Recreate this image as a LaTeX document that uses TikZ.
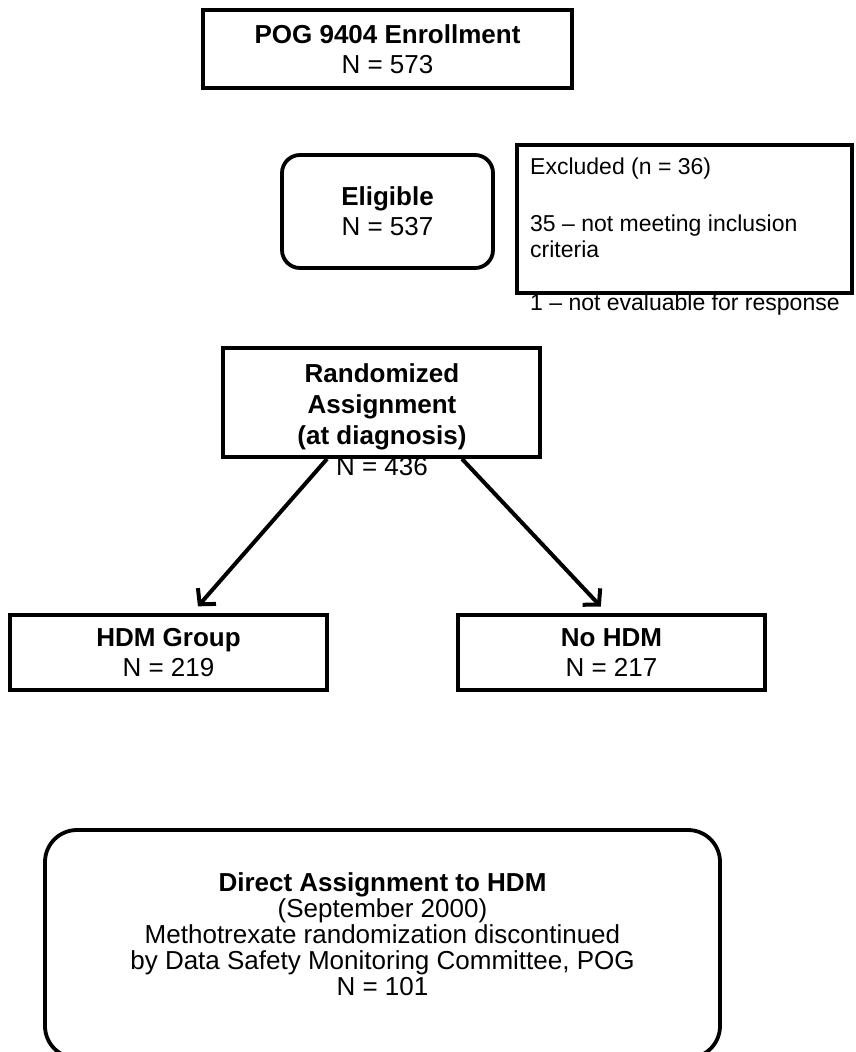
\documentclass[tikz,border=0pt]{standalone}
\usepackage{fontspec}
\setmainfont{Liberation Sans}
\usetikzlibrary{arrows.meta}

\begin{document}
\begin{tikzpicture}[x=1pt,y=-1pt,
   font=\fontsize{26}{30}\selectfont,
   box/.style={draw,line width=3.8pt,inner sep=0pt,align=center},
   rbox/.style={box,rounded corners=18pt},
   txt/.style={inner sep=0pt,align=center},
   arr/.style={line width=4pt,-{Straight Barb[length=11pt,width=24pt]},shorten >=9pt}]
\useasboundingbox (0,0) rectangle (855,1052);
\node[box,minimum width=369pt,minimum height=78pt] (enroll) at (387.5,49)
   {\textbf{POG 9404 Enrollment}\\N = 573};
\node[rbox,minimum width=211pt,minimum height=113pt] (elig) at (387.5,211.5)
   {\textbf{Eligible}\\N = 537};
\node[box,minimum width=335pt,minimum height=148pt] (excl) at (684.5,219) {};
\node[txt,align=left,anchor=west,font=\fontsize{23}{26.5}\selectfont] (exclt) at (530,237)
   {Excluded (n = 36)\\[30pt]35 -- not meeting inclusion\\criteria\\[26.5pt]1 -- not evaluable for response};
\node[box,minimum width=317pt,minimum height=109pt] (rand) at (381.5,402.5) {};
\node[txt,font=\fontsize{26}{31}\selectfont] (randt) at (382,420)
   {\textbf{Randomized}\\\textbf{Assignment}\\\textbf{(at diagnosis)}\\N = 436};
\node[box,minimum width=317pt,minimum height=75pt] (hdm) at (168.5,652.5)
   {\textbf{HDM Group}\\N = 219};
\node[box,minimum width=307pt,minimum height=75pt] (nohdm) at (611.5,652.5)
   {\textbf{No HDM}\\N = 217};
\draw[arr] ([xshift=-54.5pt]rand.south) -- ([xshift=23.5pt]hdm.north);
\draw[arr] ([xshift=80.5pt]rand.south) -- ([xshift=-4.5pt]nohdm.north);
\node[rbox,rounded corners=32pt,minimum width=675pt,minimum height=228pt] (direct) at (382.5,944) {};
\node[txt,font=\fontsize{26}{26}\selectfont] (directt) at (382.5,934)
   {\textbf{Direct Assignment to HDM}\\(September 2000)\\Methotrexate randomization discontinued\\by Data Safety Monitoring Committee, POG\\N = 101};
\end{tikzpicture}
\end{document}
